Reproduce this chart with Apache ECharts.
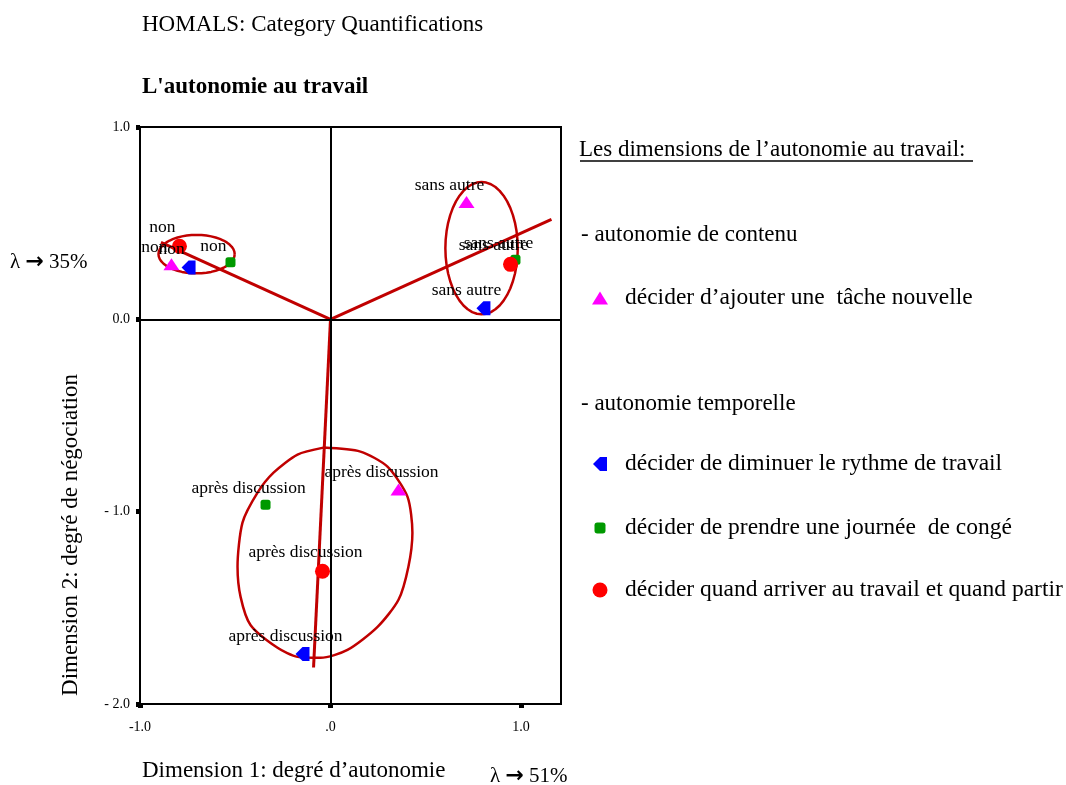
<!DOCTYPE html>
<html>
<head>
<meta charset="utf-8">
<script src="https://cdn.jsdelivr.net/npm/echarts@6/dist/echarts.min.js"></script>
<style>
  html, body { margin: 0; padding: 0; background: #fff; }
  #chart { width: 1066px; height: 785px; }
</style>
</head>
<body>
<div id="chart"></div>
<script>
// category quantifications, [dim1, dim2]
const categories = ["non", "sans autre", "après discussion"];
const tacheNouvelle = [[-0.835, 0.286], [0.714, 0.61], [0.357, -0.885]];
const rythme = [[-0.745, 0.27], [0.803, 0.057], [-0.147, -1.74]];
const conge = [[-0.525, 0.297], [0.971, 0.31], [-0.341, -0.964]];
const arriver = [[-0.793, 0.38], [0.945, 0.286], [-0.042, -1.31]];

const seriesNames = [
  "décider d’ajouter une  tâche nouvelle",
  "décider de diminuer le rythme de travail",
  "décider de prendre une journée  de congé",
  "décider quand arriver au travail et quand partir"
];

// hand-drawn red annotations (data units)
const vectorEnds = [[-0.89, 0.4], [1.16, 0.52], [-0.089, -1.81]];
const leftLoop = { cx: -0.703, cy: 0.339, rx: 0.2, ry: 0.1 };
const rightLoop = { cx: 0.793, cy: 0.37, rx: 0.19, ry: 0.344 };
const bottomLoop = [
  [-0.037, -0.667], [0.157, -0.688], [0.299, -0.766], [0.404, -0.922],
  [0.43, -1.109], [0.409, -1.286], [0.357, -1.458], [0.247, -1.599],
  [0.089, -1.719], [-0.052, -1.76], [-0.173, -1.755], [-0.278, -1.708],
  [-0.42, -1.589], [-0.472, -1.443], [-0.488, -1.286], [-0.462, -1.057],
  [-0.383, -0.901], [-0.299, -0.797], [-0.173, -0.703], [-0.037, -0.667]
];

const xTicks = [-1, 0, 1];
const yTicks = [-2, -1, 0, 1];

function ellipse(e) {
  const pts = [];
  for (let i = 0; i <= 48; i++) {
    const t = (i / 48) * Math.PI * 2;
    pts.push([e.cx + e.rx * Math.cos(t), e.cy + e.ry * Math.sin(t)]);
  }
  return pts;
}

const serif = "Liberation Serif";
const red = "#c00000";
const bluePath = "path://M0 5L5 0H10V10H5Z";

function pointSeries(name, data, color, symbol, size) {
  return {
    name: name,
    type: "scatter",
    data: data.map((d, i) => ({ value: d, name: categories[i] })),
    symbol: symbol,
    symbolSize: size,
    itemStyle: { color: color, opacity: 1 },
    label: {
      show: true,
      formatter: "{b}",
      position: "top",
      offset: [-17, 3],
      fontFamily: serif,
      fontSize: 17.5,
      color: "#000"
    },
    z: 5
  };
}

function redLine(data, width, smooth) {
  return {
    type: "line",
    data: data,
    symbol: "none",
    silent: true,
    smooth: smooth || false,
    lineStyle: { color: red, width: width },
    z: 3
  };
}

const chart = echarts.init(document.getElementById("chart"));

const series = [
  pointSeries(seriesNames[0], tacheNouvelle, "#ff00ff", "triangle", [16, 12]),
  pointSeries(seriesNames[1], rythme, "#0000ff", bluePath, [14, 14]),
  pointSeries(seriesNames[2], conge, "#009900", "roundRect", [10, 10]),
  pointSeries(seriesNames[3], arriver, "#ff0000", "circle", [15, 15]),
  {
    type: "line",
    data: [],
    silent: true,
    markLine: {
      silent: true,
      symbol: "none",
      label: { show: false },
      lineStyle: { color: "#000", width: 2, type: "solid" },
      data: [{ xAxis: 0 }, { yAxis: 0 }]
    },
    z: 2
  }
];
vectorEnds.forEach(e => series.push(redLine([[0, 0], e], 3)));
series.push(redLine(ellipse(leftLoop), 2.5));
series.push(redLine(ellipse(rightLoop), 2.5));
series.push(redLine(bottomLoop, 2.5, 0.25));

const legendTops = [281, 447, 511, 573];
const legendIcons = [[16, 13], [14, 15], [11, 11], [15, 16]];
const legends = seriesNames.map((n, i) => ({
  data: [n],
  left: 600 - legendIcons[i][0] / 2 - 5,
  top: legendTops[i],
  selectedMode: false,
  itemWidth: legendIcons[i][0],
  itemHeight: legendIcons[i][1],
  itemGap: 0,
  textStyle: { fontFamily: serif, fontSize: 23.5, color: "#000",
    padding: [0, 0, 0, 20 - legendIcons[i][0] / 2] }
}));

const lambdaRich = {
  a: { fontFamily: "DejaVu Sans", fontWeight: "bold", fontSize: 22, fill: "#000" }
};

chart.setOption({
  animation: false,
  backgroundColor: "#fff",
  title: [
    { text: "HOMALS: Category Quantifications", left: 137, top: 8,
      textStyle: { fontFamily: serif, fontSize: 23, fontWeight: "normal", color: "#000" } },
    { text: "L'autonomie au travail", left: 137, top: 71,
      textStyle: { fontFamily: serif, fontSize: 23, fontWeight: "bold", color: "#000" } }
  ],
  legend: legends,
  grid: {
    left: 140, top: 127, width: 421, height: 577,
    show: true, borderColor: "#000", borderWidth: 2, backgroundColor: "transparent"
  },
  xAxis: {
    type: "value", min: -1, max: 1.21, interval: 1,
    splitLine: { show: false },
    axisLine: { show: false, onZero: false },
    axisTick: { show: true, customValues: xTicks, length: 4, inside: false,
      lineStyle: { color: "#000", width: 5 } },
    axisLabel: { customValues: xTicks, margin: 16, fontFamily: serif, fontSize: 14, color: "#000",
      formatter: v => v === 0 ? ".0" : v.toFixed(1) }
  },
  yAxis: {
    type: "value", min: -2, max: 1, interval: 1,
    splitLine: { show: false },
    axisLine: { show: false, onZero: false },
    axisTick: { show: true, customValues: yTicks, length: 4, inside: false,
      lineStyle: { color: "#000", width: 5 } },
    axisLabel: { customValues: yTicks, margin: 10, fontFamily: serif, fontSize: 14, color: "#000",
      formatter: v => v < 0 ? "- " + Math.abs(v).toFixed(1) : v.toFixed(1) }
  },
  graphic: [
    { type: "text", left: 579, top: 138,
      style: { text: "Les dimensions de l’autonomie au travail:", font: "23px " + serif, fill: "#000" } },
    { type: "line", shape: { x1: 580, y1: 161, x2: 973, y2: 161 },
      style: { stroke: "#000", lineWidth: 1.5 } },
    { type: "text", left: 581, top: 223,
      style: { text: "- autonomie de contenu", font: "23px " + serif, fill: "#000" } },
    { type: "text", left: 581, top: 392,
      style: { text: "- autonomie temporelle", font: "23px " + serif, fill: "#000" } },
    { type: "text", left: 10, top: 251,
      style: { text: "λ {a|→} 35%", font: "21px " + serif, fill: "#000", rich: lambdaRich } },
    { type: "text", left: 490, top: 765,
      style: { text: "λ {a|→} 51%", font: "21px " + serif, fill: "#000", rich: lambdaRich } },
    { type: "text", left: 142, top: 759,
      style: { text: "Dimension 1: degré d’autonomie", font: "23px " + serif, fill: "#000" } },
    { type: "text", x: 71, y: 535, rotation: Math.PI / 2,
      style: { text: "Dimension 2: degré de négociation", font: "23px " + serif, fill: "#000",
        align: "center", verticalAlign: "middle" } }
  ],
  series: series
});
</script>
</body>
</html>
